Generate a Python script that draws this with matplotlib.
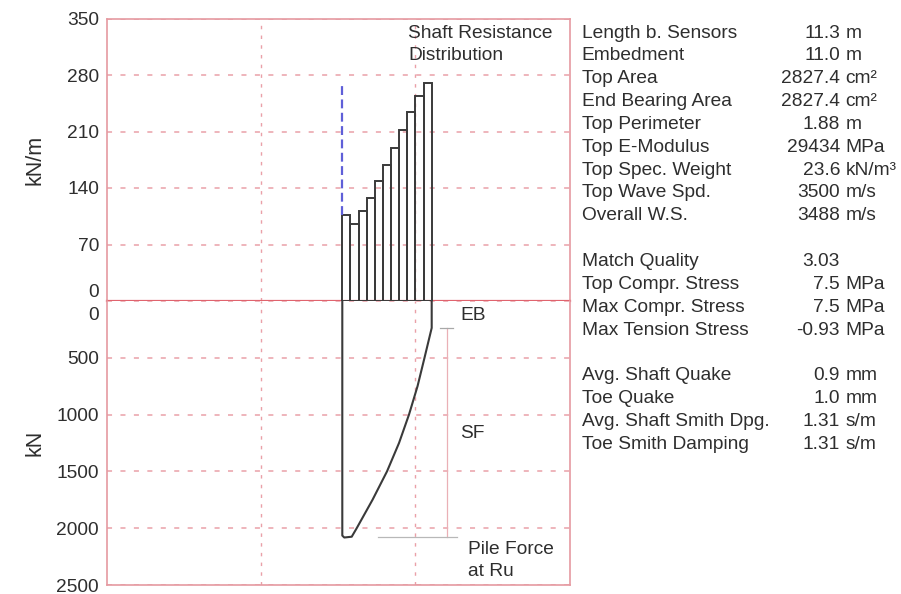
import matplotlib
matplotlib.use("Agg")
import matplotlib.pyplot as plt
from matplotlib.transforms import ScaledTranslation

plt.rcParams['font.family'] = ['Liberation Sans', 'DejaVu Sans']

# ---- data ----------------------------------------------------------------
pile_length = 11.3                      # m below sensors
shaft_resistance = [106, 96, 111, 128, 149, 169, 190, 212, 234, 254, 270]   # kN/m per segment

force_depth = [0, 0, 0.25, 1.19, 1.82, 3.82, 5.65, 7.17, 8.43, 9.51, 10.39, 11.3, 11.3]   # m
force_value = [0, 2065, 2082, 2075, 2000, 1750, 1500, 1250, 1000, 750, 500, 237, 0]       # kN
end_bearing = 237
total_ru = 2081

top_ticks = [0, 70, 140, 210, 280, 350]
bottom_ticks = [0, 500, 1000, 1500, 2000, 2500]

info_labels_1 = ["Length b. Sensors", "Embedment", "Top Area", "End Bearing Area",
                 "Top Perimeter", "Top E-Modulus", "Top Spec. Weight", "Top Wave Spd.",
                 "Overall W.S."]
info_numbers_1 = ["11.3", "11.0", "2827.4", "2827.4", "1.88", "29434", "23.6", "3500", "3488"]
info_units_1 = ["m", "m", "cm²", "cm²", "m", "MPa", "kN/m³", "m/s", "m/s"]

info_labels_2 = ["Match Quality", "Top Compr. Stress", "Max Compr. Stress", "Max Tension Stress"]
info_numbers_2 = ["3.03", "7.5", "7.5", "-0.93"]
info_units_2 = ["", "MPa", "MPa", "MPa"]

info_labels_3 = ["Avg. Shaft Quake", "Toe Quake", "Avg. Shaft Smith Dpg.", "Toe Smith Damping"]
info_numbers_3 = ["0.9", "1.0", "1.31", "1.31"]
info_units_3 = ["mm", "mm", "s/m", "s/m"]

# ---- layout helpers ------------------------------------------------------
W, H = 901, 594
def fx(px):
    return px / W
def fy(py):
    return 1 - py / H

FS = 13.8
TXT = '#2e2e2e'
FRAME = '#e59aa1'
ZERO = '#e0646e'
GRID = '#eaa0a8'

fig = plt.figure(figsize=(W / 100, H / 100), dpi=100)
left, right = 107.3, 570
ax_top = fig.add_axes([fx(left), fy(301), fx(right) - fx(left), fy(18.5) - fy(301)])
ax_bot = fig.add_axes([fx(left), fy(585), fx(right) - fx(left), fy(301) - fy(585)])

m_per_px = pile_length / 89.4
xlim = ((left - 342.3) * m_per_px, (right - 342.3) * m_per_px)
vgrid = [(260.7 - 342.3) * m_per_px, (415 - 342.3) * m_per_px]

for ax in (ax_top, ax_bot):
    ax.set_xlim(*xlim)
    ax.set_xticks(vgrid)
    ax.tick_params(axis='x', length=0, labelbottom=False)
    ax.tick_params(axis='y', length=0, pad=6, labelsize=FS, labelcolor=TXT)
    for s in ax.spines.values():
        s.set_color(FRAME)
        s.set_linewidth(1.2)
    ax.grid(axis='x', color=GRID, linewidth=1.0, linestyle=(0, (2.5, 4.5)))
    ax.grid(axis='y', color=GRID, linewidth=1.1, linestyle=(0, (3.3, 5.5)))
    ax.set_axisbelow(True)

# upper panel: shaft resistance distribution
ax_top.set_ylim(0, 350)
ax_top.set_yticks(top_ticks)
ax_top.spines['bottom'].set_color(ZERO)
ax_top.spines['bottom'].set_linewidth(1.6)
seg = pile_length / len(shaft_resistance)
lefts = [i * seg for i in range(len(shaft_resistance))]
ax_top.bar(lefts, shaft_resistance, width=seg, align='edge', fill=False,
           edgecolor='#3a3a3a', linewidth=1.4, zorder=3)
ax_top.plot([0, 0], [shaft_resistance[0], max(shaft_resistance)], color='#5f5fd8',
            linewidth=1.6, linestyle=(0, (4, 2)), zorder=4)
ax_top.set_ylabel("kN/m", fontsize=15.5, color=TXT)
ax_top.yaxis.label.set(ha='center', va='center', rotation_mode='anchor')
ax_top.yaxis.set_label_coords((35 - left) / (right - left), 0.5)
ax_top.yaxis.get_major_ticks()[0].label1.set_verticalalignment('bottom')

# lower panel: pile force at Ru
ax_bot.set_ylim(2500, 0)
ax_bot.set_yticks(bottom_ticks)
ax_bot.spines['top'].set_visible(False)
ax_bot.plot(force_depth, force_value, color='#3a3a3a', linewidth=1.5, zorder=3)
x_dim = (446.7 - 342.3) * m_per_px
ax_bot.plot([x_dim, x_dim], [end_bearing, total_ru], color='#eab0b6', linewidth=0.9, zorder=2)
ax_bot.plot([(440 - 342.3) * m_per_px, (453 - 342.3) * m_per_px], [end_bearing, end_bearing],
            color='#a8a8a8', linewidth=0.9, zorder=2)
ax_bot.plot([(378 - 342.3) * m_per_px, (457 - 342.3) * m_per_px], [total_ru, total_ru],
            color='#b8b8b8', linewidth=0.9, zorder=2)
ax_bot.set_ylabel("kN", fontsize=15.5, color=TXT)
ax_bot.yaxis.label.set(ha='center', va='center', rotation_mode='anchor')
ax_bot.yaxis.set_label_coords((35 - left) / (right - left), 0.5)
zero_lbl = ax_bot.yaxis.get_major_ticks()[0].label1
zero_lbl.set_verticalalignment('top')
zero_lbl.set_transform(zero_lbl.get_transform() + ScaledTranslation(0, -4 / 72, fig.dpi_scale_trans))

# annotations in the plot area
fig.text(fx(408), fy(33), "Shaft Resistance", fontsize=FS, color=TXT, va='center')
fig.text(fx(408), fy(55), "Distribution", fontsize=FS, color=TXT, va='center')
fig.text(fx(460), fy(315), "EB", fontsize=FS, color=TXT, va='center')
fig.text(fx(460), fy(433), "SF", fontsize=FS, color=TXT, va='center')
fig.text(fx(468), fy(550), "Pile Force", fontsize=FS, color=TXT, va='center')
fig.text(fx(468), fy(572), "at Ru", fontsize=FS, color=TXT, va='center')

# parameter listing on the right
row_h = 22.85
groups = [(0, info_labels_1, info_numbers_1, info_units_1),
          (10, info_labels_2, info_numbers_2, info_units_2),
          (15, info_labels_3, info_numbers_3, info_units_3)]
for start, labels, numbers, units in groups:
    for i, (lab, num, unit) in enumerate(zip(labels, numbers, units)):
        y = 33 + (start + i) * row_h
        fig.text(fx(581.5), fy(y), lab, fontsize=FS, color=TXT, va='center')
        fig.text(fx(840), fy(y), num, fontsize=FS, color=TXT, va='center', ha='right')
        if unit:
            fig.text(fx(845.5), fy(y), unit, fontsize=FS, color=TXT, va='center')

fig.savefig("out.png", dpi=100)
